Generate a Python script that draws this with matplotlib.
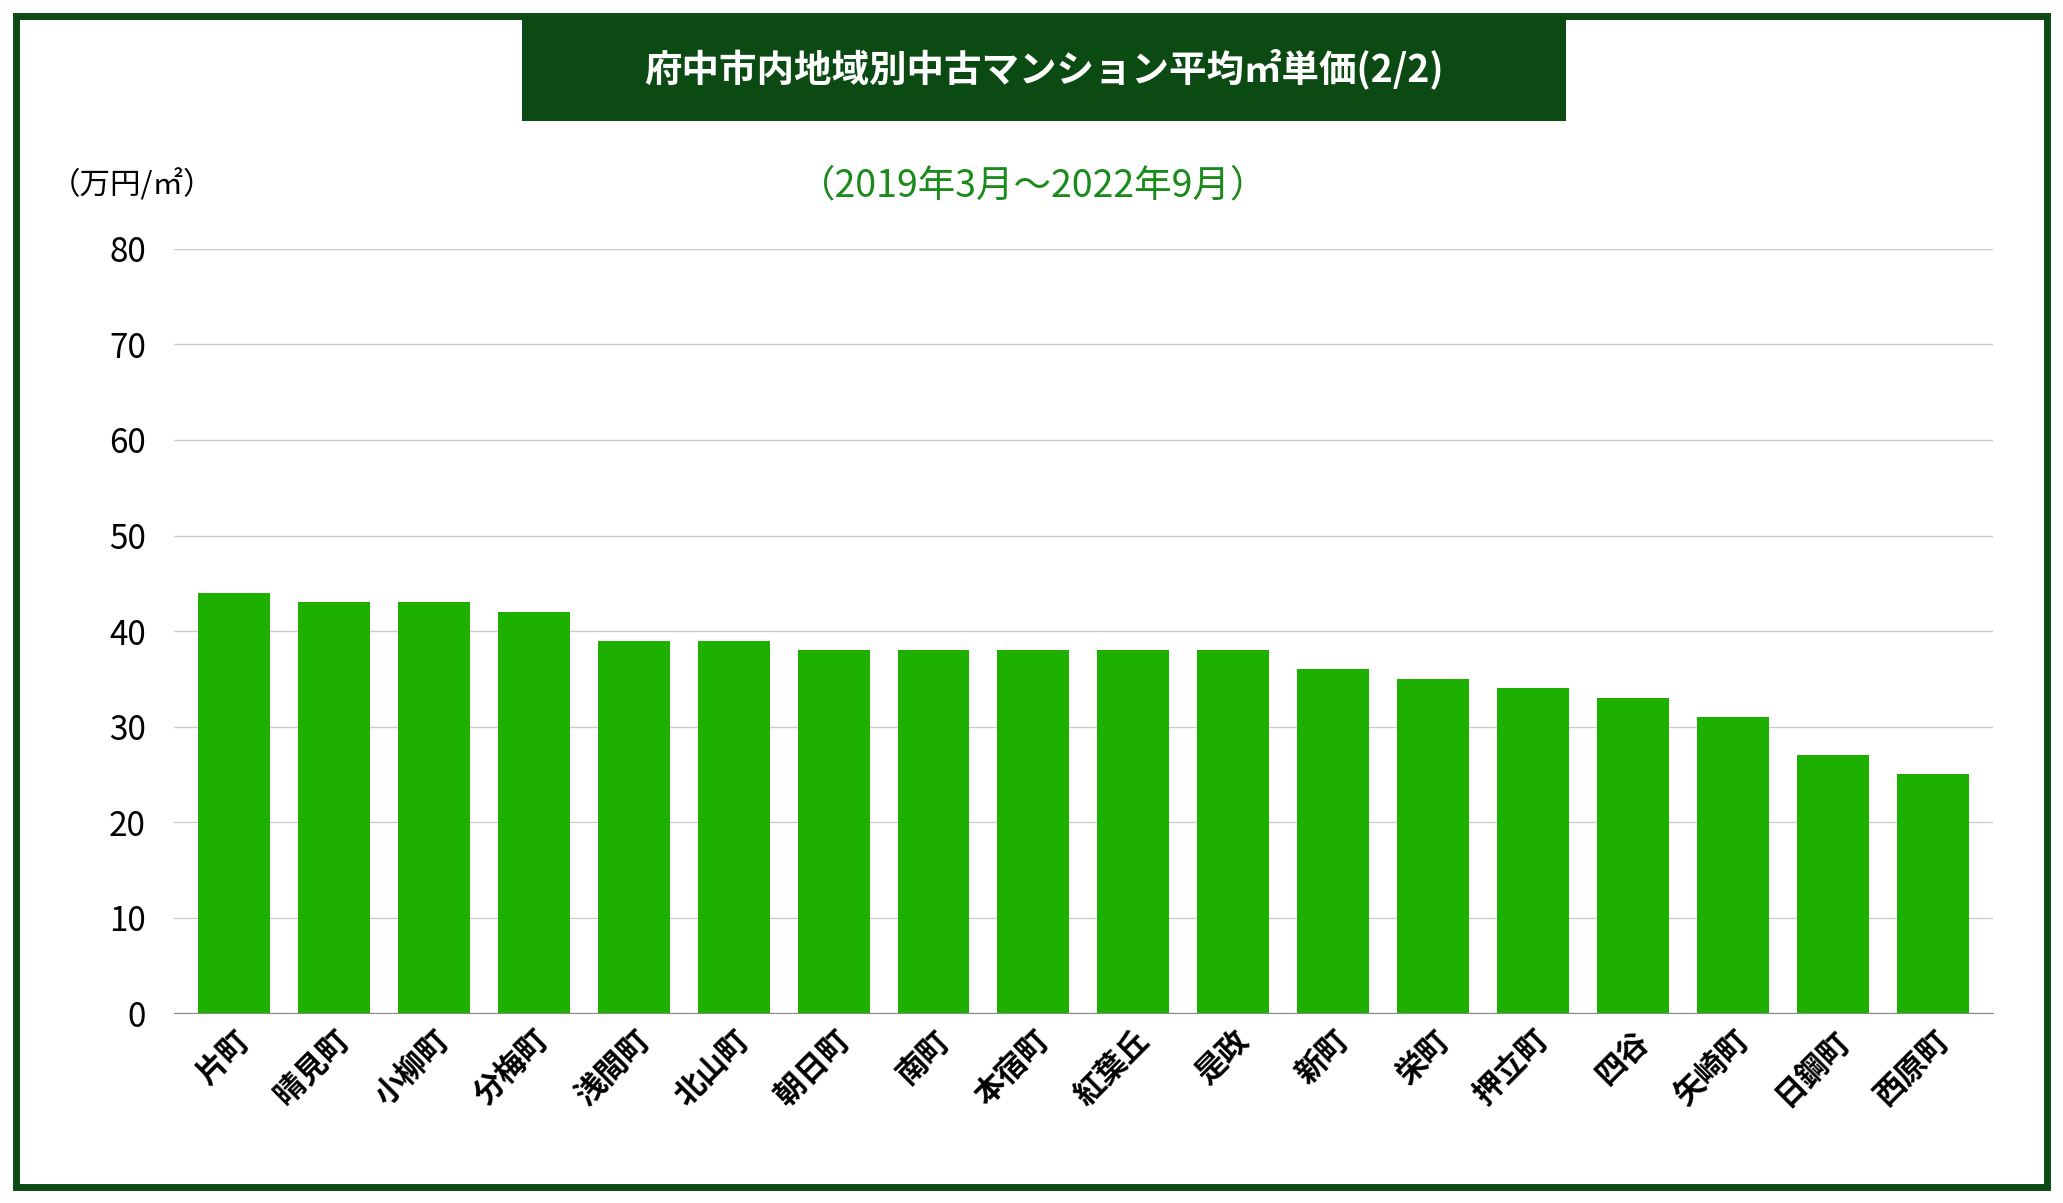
import matplotlib
matplotlib.use("Agg")
import matplotlib.pyplot as plt
from matplotlib.patches import Rectangle

plt.rcParams["font.family"] = "Noto Sans CJK JP"

areas = ["片町","晴見町","小柳町","分梅町","浅間町","北山町","朝日町","南町","本宿町","紅葉丘","是政","新町","栄町","押立町","四谷","矢崎町","日鋼町","西原町"]
prices = [44,43,43,42,39,39,38,38,38,38,38,36,35,34,33,31,27,25]
yticks = [0,10,20,30,40,50,60,70,80]

W, H = 1568, 914
fig = plt.figure(figsize=(20.63, 12.03), dpi=100)
fig.patches.append(Rectangle((12/W, 12/H), 1-24/W, 1-24/H, transform=fig.transFigure,
                             fill=False, edgecolor="#0b4a12", linewidth=5))
fig.patches.append(Rectangle((397/W, 1-92/H), (1190-397)/W, 80/H, transform=fig.transFigure,
                             facecolor="#0b4a12", edgecolor="none"))
fig.text((397+1190)/2/W, 1-52/H, "府中市内地域別中古マンション平均㎡単価(2/2)", color="white",
         fontsize=27, fontweight="bold", ha="center", va="center")
fig.text(785/W, 1-141/H, "（2019年3月〜2022年9月）", color="#1a8a1a", fontsize=27, ha="center", va="center")
fig.text(38/W, 1-141/H, "（万円/㎡）", color="black", fontsize=22, ha="left", va="center")

ax = fig.add_axes([132/W, 1-770/H, (1515-132)/W, (770-189)/H])
ax.bar(range(len(areas)), prices, width=0.72, color="#1db000", zorder=2)
ax.set_ylim(0, 80)
ax.set_xlim(-0.6, len(areas)-0.4)
ax.set_yticks(yticks)
ax.set_yticklabels([str(v) for v in yticks], fontsize=24)
ax.grid(axis="y", color="#cccccc", linewidth=1, zorder=0)
for s in ["top", "right", "left"]:
    ax.spines[s].set_visible(False)
ax.spines["bottom"].set_color("#888888")
ax.tick_params(axis="y", length=0, pad=20)
ax.tick_params(axis="x", length=0, pad=8)
ax.set_xticks(range(len(areas)))
ax.set_xticklabels(areas, rotation=45, ha="right", rotation_mode="anchor", fontsize=22, fontweight="bold")
fig.savefig("out.png", dpi=100)
